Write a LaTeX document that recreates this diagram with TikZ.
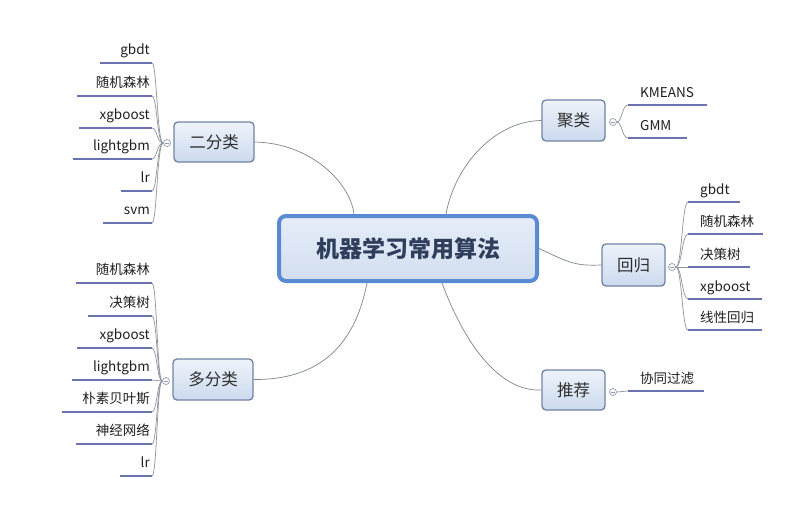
\documentclass[tikz,border=0pt]{standalone}
\usepackage{fontspec}
\newfontfamily\cjk{Noto Sans CJK SC}
\usetikzlibrary{shadings}
\definecolor{ul}{HTML}{6A72B0}
\definecolor{br}{HTML}{8E939E}
\definecolor{bbord}{HTML}{7183A3}
\definecolor{ctext}{HTML}{2E3E5C}
\definecolor{cbord}{HTML}{5A8AD2}
\definecolor{ftop}{HTML}{EEF3FA}
\definecolor{fbot}{HTML}{CCDAEE}
\definecolor{ctop}{HTML}{E6EDF8}
\definecolor{cbot}{HTML}{D2DEF0}
\tikzset{
  branch/.style={draw=bbord, line width=1.3pt, rounded corners=4pt, top color=ftop, bottom color=fbot, font=\cjk\fontsize{16.5}{18}\selectfont, text=black!82, inner sep=0pt},
  central/.style={draw=cbord, line width=4pt, rounded corners=7pt, top color=ctop, bottom color=cbot, font=\cjk\bfseries\fontsize{23}{26}\selectfont, text=ctext, minimum width=258pt, minimum height=65pt, inner sep=0pt},
  leaf/.style={font=\cjk\fontsize{13.5}{15}\selectfont, text=black!88, inner sep=0pt},
  uline/.style={draw=ul, line width=2.4pt},
  brline/.style={draw=br, line width=0.7pt},
  mainline/.style={draw=br!90!black, line width=0.7pt},
  knob/.style={circle, draw=bbord!80, fill=white, line width=0.7pt, minimum size=7pt, inner sep=0pt,
    path picture={\draw[bbord!80, line width=0.5pt] ([xshift=-2pt]path picture bounding box.center) -- ([xshift=2pt]path picture bounding box.center);}},
}
\begin{document}
\begin{tikzpicture}[x=1pt,y=-1pt]
\useasboundingbox (0,0) rectangle (801,507);
\fill[white] (0,0) rectangle (801,507);

% central
\node[central] (c) at (408,248.5) {机器学习常用算法};

% branch nodes
\node[branch, minimum width=80pt, minimum height=40pt] (b1) at (214,142) {二分类};
\node[branch, minimum width=80pt, minimum height=41pt] (b2) at (213,379.5) {多分类};
\node[branch, minimum width=63pt, minimum height=41pt] (b3) at (573.5,120.5) {聚类};
\node[branch, minimum width=63pt, minimum height=42pt] (b4) at (633.5,265) {回归};
\node[branch, minimum width=63pt, minimum height=40pt] (b5) at (573.5,390) {推荐};

% main connectors
\draw[mainline] (b1.east) .. controls (310,143) and (350,182) .. ([xshift=-54pt]c.north);
\draw[mainline] ([xshift=38pt]c.north) .. controls (455,165) and (495,121) .. (b3.west);
\draw[mainline] (c.east) .. controls (570,263) and (575,266) .. (b4.west);
\draw[mainline] ([xshift=-41pt]c.south) .. controls (355,345) and (320,380) .. (b2.east);
\draw[mainline] ([xshift=34pt]c.south) .. controls (465,345) and (500,392) .. (b5.west);

% knobs
\node[knob] (k1) at (167,143) {};
\node[knob] (k2) at (166,381) {};
\node[knob] (k3) at (613,122) {};
\node[knob] (k4) at (672,267) {};
\node[knob] (k5) at (613,392) {};

% left leaves: name, y, left x, text, knob, knob y
\newcommand\lleaf[6]{%
  \coordinate (#1r) at (152,#2);
  \coordinate (#1l) at (#3,#2);
  \draw[brline] (#5.west) .. controls (157,#6) and (157,#2) .. (#1r);
  \draw[uline] (#1l) -- (#1r);
  \node[leaf, anchor=base east] (#1) at ([xshift=-2pt,yshift=8.5pt]#1r) {#4};
}
\lleaf{a1}{63}{100}{gbdt}{k1}{143}
\lleaf{a2}{96}{77}{随机森林}{k1}{143}
\lleaf{a3}{128}{79}{xgboost}{k1}{143}
\lleaf{a4}{159}{73}{lightgbm}{k1}{143}
\lleaf{a5}{191}{121}{lr}{k1}{143}
\lleaf{a6}{223}{103}{svm}{k1}{143}

\lleaf{m1}{283}{76}{随机森林}{k2}{381}
\lleaf{m2}{316}{88}{决策树}{k2}{381}
\lleaf{m3}{348}{77}{xgboost}{k2}{381}
\lleaf{m4}{380}{72}{lightgbm}{k2}{381}
\lleaf{m5}{412}{62}{朴素贝叶斯}{k2}{381}
\lleaf{m6}{444}{76}{神经网络}{k2}{381}
\lleaf{m7}{476}{120}{lr}{k2}{381}

% right leaves: name, y, left x, right x, text, knob, knob y, text x
\newcommand\rleaf[8]{%
  \coordinate (#1l) at (#3,#2);
  \coordinate (#1r) at (#4,#2);
  \draw[brline] (#6.east) .. controls ({#3-6},#7) and ({#3-6},#2) .. (#1l);
  \draw[uline] (#1l) -- (#1r);
  \node[leaf, anchor=base west] (#1) at (#8,{#2-8}) {#5};
}
\rleaf{j1}{105}{628}{707}{KMEANS}{k3}{122}{640}
\rleaf{j2}{138}{628}{687}{GMM}{k3}{122}{640}

\rleaf{h1}{202}{688}{740}{gbdt}{k4}{267}{700}
\rleaf{h2}{234}{688}{763}{随机森林}{k4}{267}{700}
\rleaf{h3}{267}{688}{750}{决策树}{k4}{267}{700}
\rleaf{h4}{299}{688}{762}{xgboost}{k4}{267}{700}
\rleaf{h5}{330}{688}{762}{线性回归}{k4}{267}{700}

\rleaf{t1}{391}{628}{704}{协同过滤}{k5}{392}{640}
\end{tikzpicture}
\end{document}
